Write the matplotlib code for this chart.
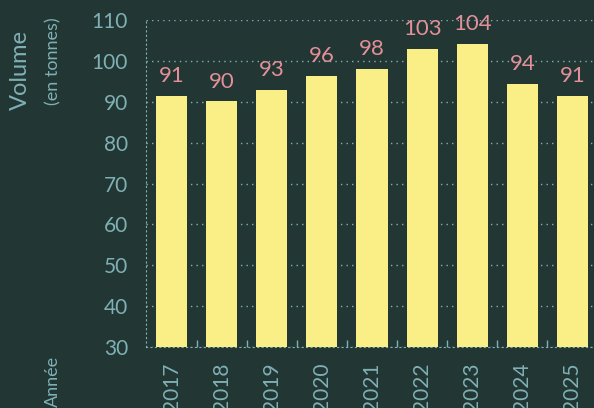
import numpy as np
import matplotlib.pyplot as plt

years = ['2017', '2018', '2019', '2020', '2021', '2022', '2023', '2024', '2025']
volumes = [91.4, 90.1, 92.9, 96.3, 98.0, 102.9, 104.2, 94.4, 91.4]
y_ticks = [30, 40, 50, 60, 70, 80, 90, 100, 110]

BG = '#223634'
BAR = '#f9ef86'
LABEL = '#e3909a'
TEXT = '#7fb0b5'

plt.rcParams['font.family'] = ['Lato', 'DejaVu Sans']

fig = plt.figure(figsize=(5.94, 4.08), dpi=100, facecolor=BG)
ax = fig.add_axes([146 / 594, 61 / 408, 448 / 594, 327 / 408])
ax.set_facecolor(BG)

x = np.arange(len(years))
ax.bar(x, volumes, width=0.62, color=BAR, zorder=3)

for xi, v in zip(x, volumes):
    ax.annotate(str(round(v)), (xi, v), xytext=(0, 7), textcoords='offset points',
                ha='center', va='bottom', color=LABEL, fontsize=16)

ax.set_ylim(30, 110)
ax.set_xlim(-0.51, 8.43)
ax.set_yticks(y_ticks)
ax.tick_params(axis='y', length=0, pad=13, labelsize=15, labelcolor=TEXT)
ax.set_xticks(x)
ax.set_xticklabels(years, rotation=90, va='top')
ax.tick_params(axis='x', length=0, pad=11, labelsize=15, labelcolor=TEXT)
ax.set_xticks(x[:-1] + 0.5, minor=True)
ax.tick_params(axis='x', which='minor', direction='in', length=5, width=1, color=TEXT)

ax.grid(axis='y', linestyle=(0, (1, 3)), color=TEXT, linewidth=1, zorder=0)
for side in ['top', 'right']:
    ax.spines[side].set_visible(False)
ax.spines['bottom'].set_linestyle((0, (1, 3)))
ax.spines['bottom'].set_color(TEXT)
ax.spines['left'].set_linestyle((0, (1, 3)))
ax.spines['left'].set_color(TEXT)

fig.text(20 / 594, 1 - 70 / 408, 'Volume', rotation=90, ha='center', va='center',
         color=TEXT, fontsize=17)
fig.text(53 / 594, 1 - 61 / 408, '(en tonnes)', rotation=90, ha='center', va='center',
         color=TEXT, fontsize=13)
fig.text(53 / 594, 1 - 356 / 408, 'Année', rotation=90, ha='center', va='top',
         color=TEXT, fontsize=13)

fig.savefig('out.png', dpi=100, facecolor=BG)
